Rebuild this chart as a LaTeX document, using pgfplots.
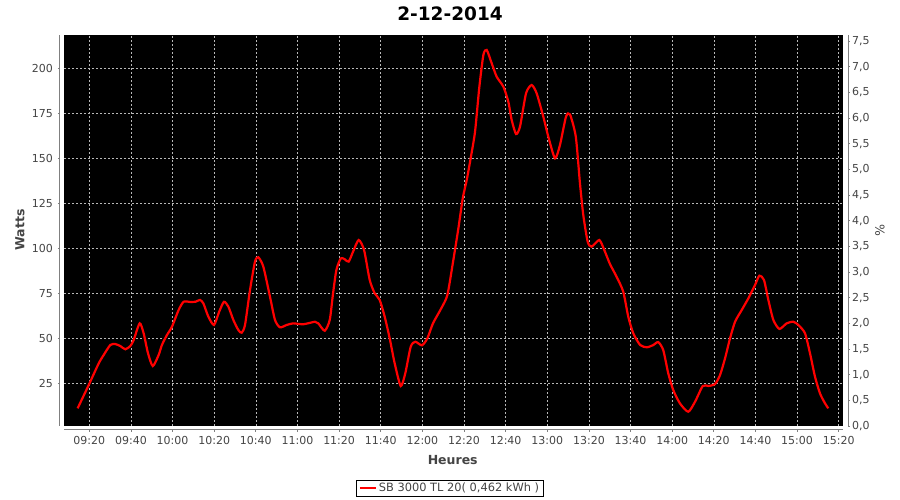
\documentclass[border=0pt]{standalone}
\usepackage{fontspec}
\setmainfont{DejaVu Sans}
\usepackage{pgfplots}
\pgfplotsset{compat=1.18}
\definecolor{txtgray}{HTML}{444444}
\definecolor{axgray}{HTML}{808080}
\definecolor{gridgray}{HTML}{B8B8B8}
\pgfplotstableread{
t W
554.4 11.1
559.7 24
564.5 36
566.9 40.7
570.1 46.3
572.5 46.8
574.9 45.7
577.3 43.9
579.7 45.7
581.3 49
584.2 58.3
586.1 52.8
588.2 41.7
590.5 34.6
593.3 40.7
594.9 46.3
597.3 51.8
599.7 56.4
602.9 65.7
605.3 70.3
608.4 70.2
611 70.3
613.2 71.3
614.8 69.4
617.2 62
619.9 57.4
622.4 64.8
624.7 70.3
626.8 67.6
629.2 60.2
631.6 54.6
633.2 53.1
634.8 57.4
637.2 76.8
639.6 92.6
641.2 95
643.6 89.8
646.8 73.1
649.2 60.2
651.6 56.1
654.8 57.4
658 58.3
662.8 57.8
668.4 59.2
670 58.3
673.1 54.2
675.5 60.2
677.1 75
678.7 88
680.8 94.4
682.7 93.9
684.6 92.6
686.7 98.1
689.4 104.6
692 99
694.7 82.4
697.1 75
699.5 71.3
701.9 62
704.3 50
706.7 36.1
709.6 23.5
711.8 30.6
714.4 45.3
716.6 48.1
719.8 46.1
722.4 50
725.1 58.3
729.1 66.7
732 74
734.6 91.5
737.3 111.1
739.4 127.8
741.3 137.9
743.2 150
745.3 164.8
747.3 188.9
749.3 207.4
750.9 210.2
753.3 202.8
755.7 195.3
758.9 189.8
761.3 181.4
762.9 171.3
765 163.5
766.9 167.6
769.8 186.1
772.5 190.7
774.9 186.1
778.1 173.1
780.5 162
783.7 150
786.1 157.4
789 173.1
790.9 174.4
793.7 162
795.7 136.1
797.3 118.5
799.4 103.7
801.3 100.9
805 104.6
807.4 99
810.1 91.3
813.3 84.2
816.5 75.9
818.9 62
821.3 52.8
824.6 46.3
827.8 45
831 46.3
833.3 47.9
835.7 43.5
838.1 30.6
840.5 21.3
843.7 13.9
847.7 9.2
851 14.8
854.7 23.5
857.4 23.5
860.6 24.6
863 29.6
865.4 38.9
867.8 50
870.2 59.2
873.4 65.7
876.6 72.2
879.8 79.6
881.9 84.8
884.1 82.4
886.2 71.3
888.6 60.2
891.5 55.2
895 58.3
898.2 59.2
900.6 57.4
903.8 52.8
906.2 41.7
908.6 28.7
911 19.4
913.4 13.9
915 11.1
}\power
\begin{document}
\begin{tikzpicture}[x=1pt,y=1pt]
\useasboundingbox (-64,-74) rectangle (836,426);
\begin{axis}[
  at={(0,0)}, anchor=south west,
  scale only axis, width=779pt, height=391pt,
  xmin=547.85, xmax=922.06, ymin=1.28, ymax=218.5,
  axis background/.style={fill=black},
  axis x line*=bottom, axis y line*=left,
  axis line style={axgray, line width=1pt},
  axis x line shift=4pt, axis y line shift=4pt,
  tick align=outside, major tick length=2pt,
  tick style={axgray, line width=0.8pt},
  xtick={560,580,...,920},
  xticklabels={09:20,09:40,10:00,10:20,10:40,11:00,11:20,11:40,12:00,12:20,12:40,13:00,13:20,13:40,14:00,14:20,14:40,15:00,15:20},
  ytick={25,50,75,100,125,150,175,200},
  grid=major,
  major grid style={gridgray, line width=0.6pt, dash pattern=on 2pt off 2pt},
  ticklabel style={font=\fontsize{11}{13}\selectfont, text=txtgray},
  yticklabel style={inner sep=0pt, xshift=-5pt},
  xticklabel style={inner sep=0pt, yshift=-4.5pt},
  /pgf/number format/assume math mode=true,
  xlabel={Heures}, ylabel={Watts},
  every axis x label/.style={at={(axis description cs:0.499,-0.087)}, anchor=center, font=\bfseries\fontsize{12.5}{15}\selectfont, text=txtgray},
  every axis y label/.style={at={(axis description cs:-0.0565,0.501)}, anchor=center, rotate=90, font=\bfseries\fontsize{12.5}{15}\selectfont, text=txtgray},
  title={2-12-2014},
  every axis title/.style={at={(axis description cs:0.4955,1.0537)}, anchor=center, font=\bfseries\fontsize{18.5}{22}\selectfont, text=black},
  legend style={at={(axis description cs:0.4955,-0.1586)}, anchor=center, draw=black, line width=0.8pt, fill=white,
    font=\fontsize{11.4}{13}\selectfont, text=txtgray, inner xsep=2pt, inner ysep=1pt},
  legend image code/.code={\draw[#1, line width=2pt] (0pt,0pt) -- (16pt,0pt);},
]
\addplot[red, line width=2.2pt, smooth, tension=0.4] table[x=t, y=W] {\power};
\addlegendentry{SB 3000 TL 20( 0,462 kWh )}
\end{axis}
\begin{axis}[
  at={(0,0)}, anchor=south west,
  scale only axis, width=779pt, height=391pt,
  xmin=547.85, xmax=922.06, ymin=0, ymax=7.617,
  axis x line=none, axis y line*=right,
  axis y line shift=5pt,
  axis line style={axgray, line width=1pt},
  tick align=outside, major tick length=2pt,
  tick style={axgray, line width=0.8pt},
  ytick={0,0.5,1,1.5,2,2.5,3,3.5,4,4.5,5,5.5,6,6.5,7,7.5},
  ticklabel style={font=\fontsize{11}{13}\selectfont, text=txtgray},
  yticklabel style={inner sep=0pt, xshift=2pt, /pgf/number format/.cd, fixed, fixed zerofill, precision=1, use comma},
  /pgf/number format/assume math mode=true,
  ylabel={\%},
  every axis y label/.style={at={(axis description cs:1.0475,0.501)}, anchor=center, rotate=-90, font=\fontsize{12.5}{15}\selectfont, text=txtgray},
]
\end{axis}
\end{tikzpicture}
\end{document}
